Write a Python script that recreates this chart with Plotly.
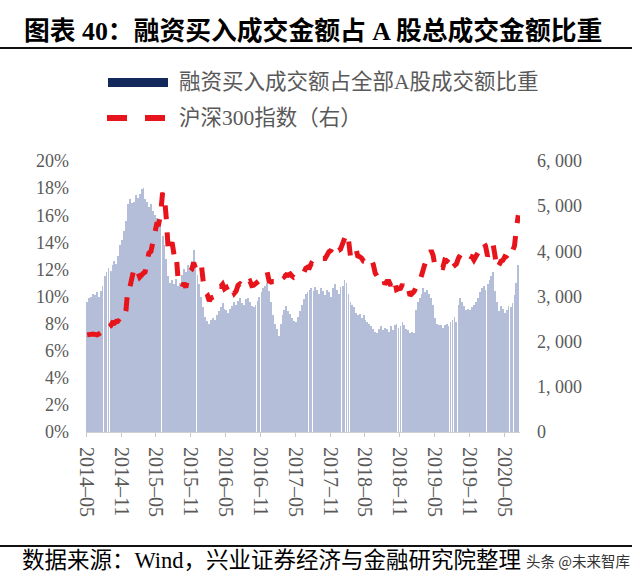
import plotly.graph_objects as go

# ---------------- data ----------------
MONTHS = [f"{y}-{m:02d}" for y in range(2014, 2021) for m in range(1, 13)]
MONTHS = [m for m in MONTHS if "2014-05" <= m <= "2020-07"]
DAYS = ["05", "15", "25"]

# share of margin-buy turnover in total A-share turnover (%), 3 readings per month
margin_share = [
    9.6, 9.9, 10.0,   10.2, 10.1, 10.3,   10.0, 10.4, 10.8,   11.5, 11.8, 12.1,   # 2014-05..08
    11.9, 12.3, 12.6, 12.4, 13.0, 13.8,   14.2, 14.8, 15.6,   16.8, 17.2, 16.9,   # 2014-09..12
    17.0, 17.5, 17.3, 17.6, 17.9, 18.0,   17.2, 17.0, 16.6,   16.8, 16.3, 16.0,   # 2015-01..04
    15.8, 15.2, 15.5, 14.5, 13.8, 12.8,   11.5, 11.0, 11.2,   10.9, 11.3, 10.8,   # 2015-05..08
    11.0, 11.6, 12.0, 11.8, 12.3, 12.1,   12.6, 13.4, 12.5,   11.6, 10.9, 10.0,   # 2015-09..12
    9.2, 8.5, 8.2,    8.0, 8.3, 8.4,      8.3, 8.6, 8.9,      9.2, 9.5, 9.1,      # 2016-01..04
    9.0, 8.8, 9.1,    9.3, 9.6, 9.4,      9.7, 9.9, 9.5,      9.4, 9.8, 9.9,      # 2016-05..08
    9.6, 9.3, 9.2,    9.4, 9.7, 10.0,     10.3, 10.6, 10.8,   11.0, 10.4, 9.6,    # 2016-09..12
    8.6, 8.0, 7.6,    7.1, 8.0, 8.6,      9.0, 9.3, 8.9,      8.7, 8.4, 8.2,      # 2017-01..04
    8.1, 8.5, 8.9,    9.4, 9.8, 10.2,     10.3, 10.5, 10.6,   10.4, 10.7, 10.5,   # 2017-05..08
    10.2, 10.6, 10.4, 10.1, 10.5, 10.3,   10.0, 10.6, 10.9,   10.5, 10.2, 10.7,   # 2017-09..12
    10.8, 11.2, 11.0, 10.2, 9.6, 9.4,     9.2, 8.8, 8.6,      8.7, 8.4, 8.6,      # 2018-01..04
    8.3, 8.1, 8.0,    7.8, 7.6, 7.4,      7.3, 7.6, 7.8,      7.5, 7.7, 7.6,      # 2018-05..08
    7.4, 7.8, 7.5,    7.9, 8.0, 7.7,      7.8, 8.1, 7.9,      7.6, 7.5, 7.3,      # 2018-09..12
    7.4, 7.3, 9.0,    9.6, 9.9, 10.2,     10.6, 10.3, 10.5,   10.2, 9.9, 9.4,     # 2019-01..04
    8.4, 8.0, 7.9,    7.9, 7.7, 7.9,      8.0, 7.8, 8.1,      8.3, 8.5, 8.1,      # 2019-05..08
    9.4, 9.9, 9.6,    9.3, 9.0, 9.1,      9.0, 9.2, 9.4,      9.6, 9.9, 10.3,     # 2019-09..12
    10.6, 10.8, 10.5, 10.9, 11.2, 11.5,   11.8, 10.4, 9.6,    8.9, 9.3, 9.1,      # 2020-01..04
    8.8, 9.0, 9.3,    9.2, 9.5, 10.1,     11.0, 12.3,                             # 2020-05..07
]

# CSI 300 index (right axis), same dates
csi300 = [
    2150, 2160, 2150, 2170, 2160, 2150, 2170, 2200, 2290, 2340, 2350, 2320,
    2350, 2420, 2410, 2450, 2460, 2430, 2500, 2520, 2700, 3200, 3200, 3400,
    3600, 3500, 3550, 3430, 3500, 3520, 3540, 3700, 3960, 4000, 4250, 4500,
    4600, 4600, 4800, 5300, 5200, 4700, 4000, 4100, 4200, 3900, 3950, 3400,
    3300, 3200, 3300, 3200, 3400, 3550, 3600, 3750, 3620, 3620, 3700, 3730,
    3300, 3100, 3050, 2900, 2970, 3000, 3000, 3150, 3220, 3220, 3270, 3170,
    3200, 3100, 3060, 3160, 3070, 3120, 3250, 3280, 3230, 3210, 3330, 3320,
    3340, 3240, 3250, 3290, 3330, 3350, 3380, 3430, 3500, 3540, 3340, 3320,
    3330, 3330, 3380, 3380, 3440, 3480, 3440, 3480, 3470, 3500, 3450, 3420,
    3430, 3410, 3460, 3500, 3530, 3620, 3650, 3640, 3730, 3700, 3730, 3780,
    3840, 3830, 3840, 3840, 3920, 3990, 4020, 4120, 4000, 4000, 4020, 4050,
    4150, 4250, 4390, 4250, 3900, 3980, 4050, 4070, 3900, 3880, 3850, 3780,
    3770, 3830, 3860, 3820, 3710, 3520, 3450, 3480, 3500, 3450, 3270, 3330,
    3330, 3240, 3380, 3350, 3150, 3170, 3180, 3270, 3160, 3220, 3180, 3020,
    3050, 3110, 3200, 3250, 3350, 3520, 3690, 3750, 3780, 3950, 4020, 3910,
    3660, 3650, 3600, 3650, 3640, 3800, 3780, 3830, 3860, 3650, 3700, 3720,
    3850, 3920, 3840, 3870, 3900, 3920, 3890, 3880, 3810, 3890, 3970, 4020,
    4160, 4190, 4120, 3890, 4000, 4100, 4150, 3900, 3620, 3700, 3780, 3800,
    3880, 3860, 3810, 3900, 4060, 4120, 4500, 4800,
]

dates = [f"{m}-{d}" for m in MONTHS for d in DAYS][: len(margin_share)]

x_tick_vals = ["2014-05-01", "2014-11-01", "2015-05-01", "2015-11-01", "2016-05-01",
               "2016-11-01", "2017-05-01", "2017-11-01", "2018-05-01", "2018-11-01",
               "2019-05-01", "2019-11-01", "2020-05-01"]
x_tick_text = [v[:7].replace("-", "–") for v in x_tick_vals]

y_left_vals = [0, 2, 4, 6, 8, 10, 12, 14, 16, 18, 20]
y_left_text = [f"{v}%" for v in y_left_vals]
y_right_vals = [0, 1000, 2000, 3000, 4000, 5000, 6000]
y_right_text = ["0", "1, 000", "2, 000", "3, 000", "4, 000", "5, 000", "6, 000"]

title_text = "<b>图表 40：融资买入成交金额占 A 股总成交金额比重</b>"
legend_1 = "融资买入成交额占全部A股成交额比重"
legend_2 = "沪深300指数（右）"
source_text = "数据来源：Wind，兴业证券经济与金融研究院整理"
watermark_text = "头条 @未来智库"

# ---------------- figure ----------------
W, H = 640, 585
L, R, T, B = 86, 120, 161, 153
PW, PH = W - L - R, H - T - B


def px(x):
    return (x - L) / PW


def py(y):
    return (H - B - y) / PH


SERIF = "Liberation Serif, Noto Sans CJK SC, serif"
GREY = "#595959"
NAVY = "#13295c"
RED = "#e8141b"

fig = go.Figure()
fig.add_trace(go.Bar(
    x=dates, y=margin_share, yaxis="y",
    marker=dict(color="#b5bed8", line=dict(width=0)),
    width=int(4.5 * 24 * 3600 * 1000),
    name=legend_1, showlegend=False,
))
fig.add_trace(go.Scatter(
    x=dates, y=csi300, yaxis="y2", mode="lines",
    line=dict(color=RED, width=5, dash="14px,13px"),
    name=legend_2, showlegend=False,
))

fig.update_layout(
    width=W, height=H,
    margin=dict(l=L, r=R, t=T, b=B),
    paper_bgcolor="white", plot_bgcolor="white",
    bargap=0,
    showlegend=False,
    xaxis=dict(
        type="date", range=["2014-04-29", "2020-07-24"],
        tickmode="array", tickvals=x_tick_vals, ticktext=x_tick_text,
        tickangle=90, tickfont=dict(family=SERIF, size=20, color=GREY),
        showline=True, linecolor="#d0d0d0", linewidth=1,
        ticks="outside", ticklen=4, tickcolor="#c8c8c8",
        showgrid=False, zeroline=False, ticklabelstandoff=6,
    ),
    yaxis=dict(
        range=[0, 20], tickmode="array", tickvals=y_left_vals, ticktext=y_left_text,
        tickfont=dict(family=SERIF, size=18, color=GREY),
        showline=False, showgrid=False, zeroline=False, ticks="",
        ticklabelstandoff=16,
    ),
    yaxis2=dict(
        range=[0, 6000], overlaying="y", side="right",
        tickmode="array", tickvals=y_right_vals, ticktext=y_right_text,
        tickfont=dict(family=SERIF, size=18, color=GREY),
        showline=False, showgrid=False, zeroline=False, ticks="",
        ticklabelstandoff=16,
    ),
)

shapes = [
    # title underline
    dict(type="line", xref="paper", yref="paper", x0=px(0), x1=px(632), y0=py(48), y1=py(48),
         line=dict(color="#111111", width=2)),
    # footer line
    dict(type="line", xref="paper", yref="paper", x0=px(0), x1=px(632), y0=py(546), y1=py(546),
         line=dict(color="#111111", width=2)),
    # legend: bar swatch
    dict(type="rect", xref="paper", yref="paper", x0=px(108), x1=px(168), y0=py(87), y1=py(78),
         fillcolor=NAVY, line=dict(width=0)),
    # legend: dashed line swatch
    dict(type="line", xref="paper", yref="paper", x0=px(107), x1=px(127), y0=py(118), y1=py(118),
         line=dict(color=RED, width=6)),
    dict(type="line", xref="paper", yref="paper", x0=px(145), x1=px(165), y0=py(118), y1=py(118),
         line=dict(color=RED, width=6)),
]

annotations = [
    dict(text=title_text, xref="paper", yref="paper", x=px(22), y=py(31),
         xanchor="left", yanchor="middle", showarrow=False,
         font=dict(family=SERIF, size=25.8, color="#000000")),
    dict(text=legend_1, xref="paper", yref="paper", x=px(177), y=py(82),
         xanchor="left", yanchor="middle", showarrow=False,
         font=dict(family=SERIF, size=21.5, color=GREY)),
    dict(text=legend_2, xref="paper", yref="paper", x=px(177), y=py(118),
         xanchor="left", yanchor="middle", showarrow=False,
         font=dict(family=SERIF, size=21.5, color=GREY)),
    dict(text=source_text, xref="paper", yref="paper", x=px(20), y=py(560),
         xanchor="left", yanchor="middle", showarrow=False,
         font=dict(family=SERIF, size=22.5, color="#000000")),
    dict(text=watermark_text, xref="paper", yref="paper", x=px(524), y=py(560),
         xanchor="left", yanchor="middle", showarrow=False,
         font=dict(family="Noto Sans CJK SC, sans-serif", size=14.5, color="#333333")),
]

fig.update_layout(shapes=shapes, annotations=annotations)
fig.write_html("out.html")
